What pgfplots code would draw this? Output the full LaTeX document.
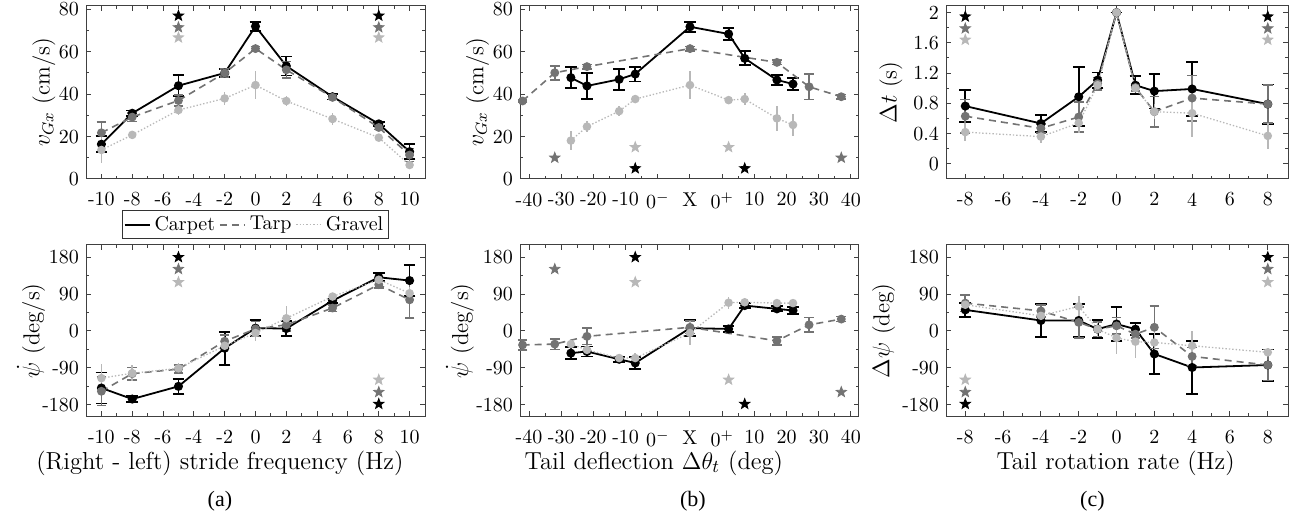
\documentclass[border=0pt]{standalone}
\usepackage{fontspec}
\usepackage{pgfplots}
\pgfplotsset{compat=1.18}
\newfontfamily\capfont{Liberation Serif}

\definecolor{cTarp}{gray}{0.45}
\definecolor{cGravel}{gray}{0.72}

% filled five-pointed star for the significance markers
\pgfdeclareplotmark{pstar}{%
  \pgfpathmoveto{\pgfpointpolar{90}{\pgfplotmarksize}}%
  \pgfpathlineto{\pgfpointpolar{126}{0.42\pgfplotmarksize}}%
  \pgfpathlineto{\pgfpointpolar{162}{\pgfplotmarksize}}%
  \pgfpathlineto{\pgfpointpolar{198}{0.42\pgfplotmarksize}}%
  \pgfpathlineto{\pgfpointpolar{234}{\pgfplotmarksize}}%
  \pgfpathlineto{\pgfpointpolar{270}{0.42\pgfplotmarksize}}%
  \pgfpathlineto{\pgfpointpolar{306}{\pgfplotmarksize}}%
  \pgfpathlineto{\pgfpointpolar{342}{0.42\pgfplotmarksize}}%
  \pgfpathlineto{\pgfpointpolar{18}{\pgfplotmarksize}}%
  \pgfpathlineto{\pgfpointpolar{54}{0.42\pgfplotmarksize}}%
  \pgfpathclose
  \pgfusepathqfillstroke
}

\pgfplotsset{
  every axis/.append style={
    scale only axis, clip=false, anchor=south west,
    axis line style={black!75, line width=0.5pt},
    tick style={black!75, line width=0.5pt},
    major tick length=2.6pt, minor tick length=1.6pt, tick align=inside,
    xticklabel style={yshift=-3.3pt},
    label style={font=\fontsize{11.5}{13}\selectfont},
    xlabel style={font=\fontsize{12.3}{14}\selectfont},
  },
  carpet/.style={black, line width=0.9pt, mark=*, mark size=1.8pt, mark options={solid},
    error bars/y dir=both, error bars/y explicit,
    error bars/error bar style={line width=0.9pt, solid},
    error bars/error mark options={rotate=90, line width=0.9pt, mark size=2.9pt, solid}},
  tarp/.style={cTarp, line width=0.8pt, dash pattern=on 3.5pt off 2.5pt, mark=*, mark size=1.8pt, mark options={solid},
    error bars/y dir=both, error bars/y explicit,
    error bars/error bar style={line width=0.8pt, solid},
    error bars/error mark options={rotate=90, line width=0.8pt, mark size=2.4pt, solid}},
  gravel/.style={cGravel, line width=0.65pt, dash pattern=on 0.7pt off 1pt, mark=*, mark size=1.8pt, mark options={solid},
    error bars/y dir=both, error bars/y explicit,
    error bars/error bar style={line width=0.8pt, solid},
    error bars/error mark=none},
  sstar/.style={only marks, mark=pstar, mark size=2.7pt, forget plot},
  vrow/.style={ymin=0, ymax=81.7, ytick={0,20,...,80}, minor y tick num=1, height=86.6pt},
  prow/.style={ymin=-209, ymax=210, ytick={-180,-90,0,90,180}, yticklabels={-180,-90,0,90,180},
    minor y tick num=1, height=85.9pt},
  xa/.style={xmin=-11, xmax=11, xtick={-10,-8,...,10}, xticklabels={-10,-8,-6,-4,-2,0,2,4,6,8,10},
    minor x tick num=1, width=169.5pt},
  % tail deflection axis: left side u = deg - 10 (0^- at -10), right side u = deg + 10 (0^+ at 10), X at 0
  xb/.style={xmin=-52.8, xmax=52.5, xtick={-50,-40,...,50},
    xticklabels={-40,-30,-20,-10,$0^-$,X,$0^+$,10,20,30,40},
    minor xtick={-45,-35,-25,-15,15,25,35,45}, width=169.5pt},
  xc/.style={xmin=-9.02, xmax=9.07, xtick={-8,-6,...,8}, xticklabels={-8,-6,-4,-2,0,2,4,6,8},
    minor x tick num=1, width=171pt},
}

\begin{document}
\begin{tikzpicture}
\useasboundingbox (0,0) rectangle (648.5pt,258.5pt);

% ---------- (a) top ----------
\begin{axis}[at={(43pt,169pt)}, xa, vrow,
  ylabel={$v_{Gx}$ (cm/s)}, ylabel style={at={(axis description cs:-0.124,0.5)}, anchor=center},
  legend style={at={(0.5,-0.18)}, anchor=north, legend columns=-1, draw=black!80,
    inner sep=0.8pt, font=\fontsize{10}{12}\selectfont,
    /tikz/every even column/.append style={column sep=0pt}},
  legend image code/.code={\draw[#1] (0pt,0pt) -- (12.5pt,0pt);}]
\addlegendimage{black, line width=0.9pt}
\addlegendentry{Carpet}
\addlegendimage{cTarp, line width=0.8pt, dash pattern=on 3.5pt off 2.5pt}
\addlegendentry{Tarp}
\addlegendimage{cGravel, line width=0.65pt, dash pattern=on 0.7pt off 1pt}
\addlegendentry{Gravel}
\addplot[carpet, forget plot] coordinates {(-10,16.4) +- (0,3.8) (-8,31) +- (0,1.3) (-5,44) +- (0,5)
  (-2,50) +- (0,2) (0,72) +- (0,2.2) (2,53.3) +- (0,4.5) (5,38.8) +- (0,1.3) (8,26) +- (0,0.9) (10,12.9) +- (0,3.6)};
\addplot[tarp, forget plot] coordinates {(-10,21.8) +- (0,5) (-8,29.2) +- (0,2) (-5,37) +- (0,2.5)
  (-2,50) +- (0,2) (0,61.5) +- (0,1) (2,51.5) +- (0,4) (5,38.5) +- (0,1) (8,24.3) +- (0,1) (10,11.3) +- (0,3)};
\addplot[gravel, forget plot] coordinates {(-10,13.7) +- (0,6) (-8,20.8) +- (0,1.5) (-5,32.5) +- (0,2.5)
  (-2,38) +- (0,3) (0,44.3) +- (0,6.5) (2,36.8) +- (0,2.5) (5,28.3) +- (0,3) (8,19.5) +- (0,1) (10,6.6) +- (0,2)};
\addplot[sstar, black] coordinates {(-5,77) (8,77)};
\addplot[sstar, cTarp] coordinates {(-5,71.5) (8,71.5)};
\addplot[sstar, cGravel] coordinates {(-5,66.7) (8,66.7)};
\end{axis}

% ---------- (b) top ----------
\begin{axis}[at={(260pt,169pt)}, xb, vrow,
  ylabel={$v_{Gx}$ (cm/s)}, ylabel style={at={(axis description cs:-0.125,0.5)}, anchor=center}]
\addplot[carpet, forget plot] coordinates {(-37,47.8) +- (0,5) (-32,43.9) +- (0,6) (-22,47) +- (0,5)
  (-17,49.5) +- (0,3.5) (0,71.8) +- (0,2.4) (12,68.4) +- (0,2.8) (17,56.9) +- (0,3.3) (27,46.7) +- (0,2.5) (32,44.8) +- (0,3)};
\addplot[tarp, forget plot] coordinates {(-52,36.8) +- (0,0.5) (-42,50.1) +- (0,3.3) (-32,53) +- (0,1)
  (0,61.5) +- (0,1) (27,55) +- (0,1) (37,43.5) +- (0,6) (47,38.8) +- (0,1)};
\addplot[gravel, forget plot] coordinates {(-37,18.1) +- (0,4.5) (-32,24.7) +- (0,2.5) (-22,32) +- (0,2.5)
  (-17,37.7) +- (0,1) (0,44.3) +- (0,6.5) (12,37.2) +- (0,1) (17,37.7) +- (0,3) (27,28.6) +- (0,6) (32,25.5) +- (0,5)};
\addplot[sstar, cTarp] coordinates {(-42,10) (47,10)};
\addplot[sstar, cGravel] coordinates {(-17,15) (12,15)};
\addplot[sstar, black] coordinates {(-17,5) (17,5)};
\end{axis}

% ---------- (c) top ----------
\begin{axis}[at={(473pt,169pt)}, xc, height=86.6pt,
  ymin=-0.2, ymax=2.09, ytick={0,0.4,0.8,1.2,1.6,2}, yticklabels={0,0.4,0.8,1.2,1.6,2}, minor y tick num=1,
  ylabel={$\Delta t$ (s)}, ylabel style={at={(axis description cs:-0.161,0.5)}, anchor=center}]
\addplot[carpet, forget plot] coordinates {(-8,0.764) +- (0,0.21) (-4,0.534) +- (0,0.11) (-2,0.887) +- (0,0.39)
  (-1,1.108) +- (0,0.1) (0,2.0) +- (0,0) (1,1.04) +- (0,0.12) (2,0.962) +- (0,0.23) (4,0.99) +- (0,0.36) (8,0.79) +- (0,0.26)};
\addplot[tarp, forget plot] coordinates {(-8,0.63) +- (0,0.22) (-4,0.47) +- (0,0.06) (-2,0.62) +- (0,0.2)
  (-1,1.06) +- (0,0.08) (0,2.0) +- (0,0) (1,1.01) +- (0,0.05) (2,0.69) +- (0,0.2) (4,0.87) +- (0,0.3) (8,0.79) +- (0,0.25)};
\addplot[gravel, forget plot] coordinates {(-8,0.42) +- (0,0.12) (-4,0.36) +- (0,0.08) (-2,0.54) +- (0,0.13)
  (-1,1.04) +- (0,0.05) (0,2.0) +- (0,0) (1,1.0) +- (0,0.05) (2,0.69) +- (0,0.1) (4,0.67) +- (0,0.32) (8,0.37) +- (0,0.17)};
\addplot[sstar, black] coordinates {(-8,1.947) (8,1.947)};
\addplot[sstar, cTarp] coordinates {(-8,1.79) (8,1.79)};
\addplot[sstar, cGravel] coordinates {(-8,1.64) (8,1.64)};
\end{axis}

% ---------- (a) bottom ----------
\begin{axis}[at={(43pt,50.15pt)}, xa, prow,
  ylabel={$\dot{\psi}$ (deg/s)}, ylabel style={at={(axis description cs:-0.162,0.5)}, anchor=center},
  xlabel={(Right - left) stride frequency (Hz)}, xlabel style={at={(axis description cs:0.395,-0.27)}, anchor=center}]
\addplot[carpet, forget plot] coordinates {(-10,-139) +- (0,38) (-8,-166) +- (0,8) (-5,-135) +- (0,18)
  (-2,-42) +- (0,40) (0,7) +- (0,20) (2,6) +- (0,18) (5,74) +- (0,5) (8,131) +- (0,10) (10,123) +- (0,38)};
\addplot[tarp, forget plot] coordinates {(-10,-147) +- (0,35) (-8,-104) +- (0,15) (-5,-93) +- (0,10)
  (-2,-25) +- (0,15) (0,5) +- (0,18) (2,15) +- (0,15) (5,56) +- (0,8) (8,113) +- (0,8) (10,76) +- (0,45)};
\addplot[gravel, forget plot] coordinates {(-10,-115) +- (0,35) (-8,-103) +- (0,20) (-5,-91) +- (0,12)
  (-2,-36) +- (0,15) (0,-5) +- (0,20) (2,31) +- (0,30) (5,84) +- (0,8) (8,125) +- (0,10) (10,92) +- (0,15)};
\addplot[sstar, black] coordinates {(-5,180) (8,-178)};
\addplot[sstar, cTarp] coordinates {(-5,151) (8,-149)};
\addplot[sstar, cGravel] coordinates {(-5,119) (8,-119)};
\node[font=\capfont\fontsize{11}{13}\selectfont] at (axis description cs:0.395,-0.494) {(a)};
\end{axis}

% ---------- (b) bottom ----------
\begin{axis}[at={(260pt,50.15pt)}, xb, prow,
  ylabel={$\dot{\psi}$ (deg/s)}, ylabel style={at={(axis description cs:-0.177,0.5)}, anchor=center},
  xlabel={Tail deflection $\Delta\theta_t$ (deg)}, xlabel style={at={(axis description cs:0.395,-0.27)}, anchor=center}]
\addplot[carpet, forget plot] coordinates {(-37,-54) +- (0,14) (-32,-50) +- (0,12) (-22,-69) +- (0,6)
  (-17,-78) +- (0,15) (0,7) +- (0,20) (12,5) +- (0,8) (17,62) +- (0,6) (27,54) +- (0,6) (32,50) +- (0,8)};
\addplot[tarp, forget plot] coordinates {(-52,-34) +- (0,12) (-42,-32) +- (0,13) (-32,-13) +- (0,20)
  (0,9) +- (0,15) (27,-24) +- (0,10) (37,15) +- (0,18) (47,29) +- (0,6)};
\addplot[gravel, forget plot] coordinates {(-37,-32) +- (0,5) (-32,-46) +- (0,12) (-22,-66) +- (0,6)
  (-17,-66) +- (0,12) (0,-5) +- (0,30) (12,69) +- (0,15) (17,70) +- (0,6) (27,68) +- (0,10) (32,68) +- (0,6)};
\addplot[sstar, cTarp] coordinates {(-42,151) (47,-149)};
\addplot[sstar, black] coordinates {(-17,180) (17,-178)};
\addplot[sstar, cGravel] coordinates {(-17,119) (12,-119)};
\node[font=\capfont\fontsize{11}{13}\selectfont] at (axis description cs:0.51,-0.494) {(b)};
\end{axis}

% ---------- (c) bottom ----------
\begin{axis}[at={(473pt,50.15pt)}, xc, prow,
  ylabel={$\Delta\psi$ (deg)}, ylabel style={at={(axis description cs:-0.182,0.5)}, anchor=center},
  xlabel={Tail rotation rate (Hz)}, xlabel style={at={(axis description cs:0.496,-0.27)}, anchor=center}]
\addplot[carpet, forget plot] coordinates {(-8,51.5) +- (0,17) (-4,25.6) +- (0,40) (-2,25.6) +- (0,40)
  (-1,4.5) +- (0,22) (0,17) +- (0,42) (1,4.5) +- (0,15) (2,-56) +- (0,48) (4,-89) +- (0,65) (8,-83) +- (0,38)};
\addplot[tarp, forget plot] coordinates {(-8,68) +- (0,20) (-4,49) +- (0,15) (-2,21) +- (0,38)
  (-1,4.5) +- (0,18) (0,12.6) +- (0,20) (1,-7.7) +- (0,10) (2,9) +- (0,52) (4,-62) +- (0,22) (8,-83) +- (0,38)};
\addplot[gravel, forget plot] coordinates {(-8,64) +- (0,15) (-4,37) +- (0,20) (-2,60) +- (0,25)
  (-1,4.5) +- (0,18) (0,-17) +- (0,40) (1,-26) +- (0,40) (2,-28) +- (0,30) (4,-36) +- (0,35) (8,-52) +- (0,10)};
\addplot[sstar, black] coordinates {(8,180) (-8,-178)};
\addplot[sstar, cTarp] coordinates {(8,151) (-8,-149)};
\addplot[sstar, cGravel] coordinates {(8,119) (-8,-119)};
\node[font=\capfont\fontsize{11}{13}\selectfont] at (axis description cs:0.428,-0.494) {(c)};
\end{axis}
\end{tikzpicture}
\end{document}
